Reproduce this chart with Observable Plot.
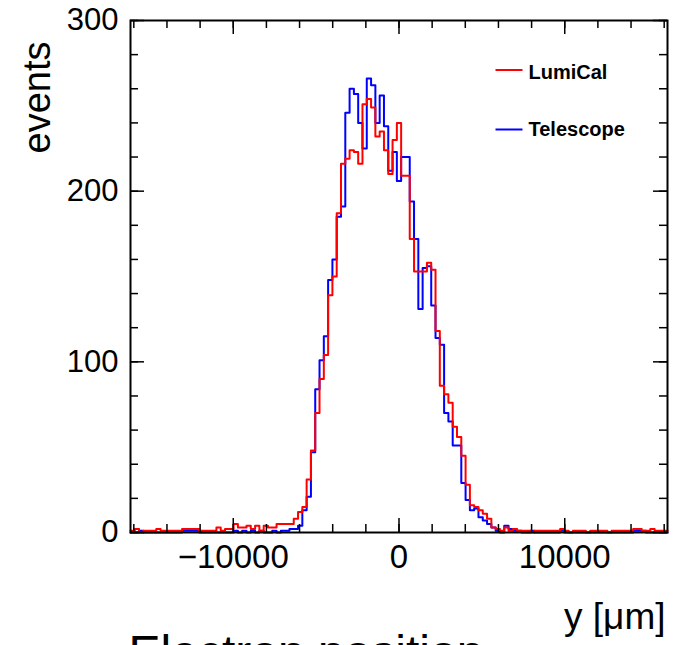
<!DOCTYPE html>
<html>
<head>
<meta charset="utf-8">
<script src="https://cdn.jsdelivr.net/npm/d3@7"></script>
<script src="https://cdn.jsdelivr.net/npm/@observablehq/plot@0.6"></script>
<style>
  html, body { margin: 0; padding: 0; background: white; overflow: hidden; }
  svg { overflow: hidden; }
</style>
</head>
<body>
<div id="chart"></div>
<script>
// Histogram range and binning (x in µm)
const histRange = [-16200, 16200];
const nBins = 125;

// Counts per bin, LumiCal (red)
const lumical = [
  1,2,0,1,1,1,2,1,1,1,
  1,1,2,2,2,2,1,1,1,1,
  3,1,2,2,5,3,3,4,2,4,
  1,4,3,3,5,5,5,5,8,12,
  15,31,48,70,90,104,139,150,187,216,
  219,224,223,216,251,254,249,232,235,224,
  210,230,240,209,209,172,153,153,153,158,
  154,118,86,81,76,62,56,45,28,16,
  15,13,11,8,3,2,1,3,1,2,
  1,1,1,0,1,1,1,1,1,1,
  2,1,0,1,1,1,0,1,1,1,
  1,0,1,1,1,1,1,2,2,1,
  1,2,1,1,1
];

// Counts per bin, Telescope (blue)
const telescope = [
  0,0,1,0,0,0,0,0,0,0,
  0,0,1,1,1,1,0,0,0,0,
  0,0,0,0,1,0,1,0,1,0,
  1,0,0,1,0,1,1,2,2,4,
  13,21,47,84,101,115,148,160,185,191,
  246,260,257,240,225,266,262,240,256,238,
  212,223,206,220,220,194,172,131,155,156,
  133,114,110,70,65,51,51,29,19,13,
  14,9,7,5,3,1,0,4,2,1,
  1,0,0,1,0,0,0,0,0,0,
  1,0,0,0,0,0,0,0,0,0,
  0,0,0,0,0,0,0,1,1,1,
  0,0,0,0,0
];

// Axis ticks
const xMajor = [-10000, 0, 10000];
const xMinor = d3.range(-16000, 16001, 2000);
const yMajor = [0, 100, 200, 300];
const yMinor = d3.range(0, 301, 20);

const series = [
  {name: "Telescope", counts: telescope, color: "#0000ff"},
  {name: "LumiCal", counts: lumical, color: "#ff0000"}
];

const binW = (histRange[1] - histRange[0]) / nBins;
function steps(counts) {
  const pts = counts.map((c, i) => ({x: histRange[0] + i * binW, y: c}));
  pts.push({x: histRange[1], y: counts[counts.length - 1]});
  return pts;
}

const W = 673, H = 645;
const mL = 130, mR = 6, mT = 20, mB = 113;
const plotW = W - mL - mR, plotH = H - mT - mB;
const majLen = 14, minLen = 8;

const lineSym = {draw(ctx) { ctx.moveTo(-13.5, 0); ctx.lineTo(13.5, 0); }};

const fontFam = "'Liberation Sans', Arial, Helvetica, sans-serif";

const chart = Plot.plot({
  width: W, height: H,
  marginLeft: mL, marginRight: mR, marginTop: mT, marginBottom: mB,
  style: {fontFamily: fontFam, fontSize: "30px", background: "white", color: "black"},
  x: {domain: histRange},
  y: {domain: [0, 300]},
  marks: [
    // histograms
    ...series.map(s => Plot.line(steps(s.counts), {x: "x", y: "y", curve: "step-after", stroke: s.color, strokeWidth: 2})),
    // frame
    Plot.frame({stroke: "black", strokeWidth: 2}),
    // inward ticks, bottom and top
    Plot.ruleX(xMinor, {insetTop: plotH - minLen, stroke: "black", strokeWidth: 1.5}),
    Plot.ruleX(xMajor, {insetTop: plotH - majLen, stroke: "black", strokeWidth: 1.5}),
    Plot.ruleX(xMinor, {insetBottom: plotH - minLen, stroke: "black", strokeWidth: 1.5}),
    Plot.ruleX(xMajor, {insetBottom: plotH - majLen, stroke: "black", strokeWidth: 1.5}),
    // inward ticks, left and right
    Plot.ruleY(yMinor, {insetRight: plotW - minLen, stroke: "black", strokeWidth: 1.5}),
    Plot.ruleY(yMajor, {insetRight: plotW - majLen, stroke: "black", strokeWidth: 1.5}),
    Plot.ruleY(yMinor, {insetLeft: plotW - minLen, stroke: "black", strokeWidth: 1.5}),
    Plot.ruleY(yMajor, {insetLeft: plotW - majLen, stroke: "black", strokeWidth: 1.5}),
    // tick labels
    Plot.axisX({ticks: xMajor, tickSize: 0, tickPadding: 12, fontSize: 33, label: null,
      tickFormat: d => d < 0 ? "\u2212" + Math.abs(d) : String(d)}),
    Plot.axisY({ticks: yMajor, tickSize: 0, tickPadding: 12, fontSize: 31, label: null}),
    // axis titles
    Plot.text(["events"], {frameAnchor: "top-left", rotate: -90, textAnchor: "end", dx: -107, dy: 21, fontSize: 38}),
    Plot.text(["y [\u03bcm]"], {frameAnchor: "bottom-right", textAnchor: "end", dx: -2, dy: 96, fontSize: 37}),
    Plot.text(["Electron position"], {frameAnchor: "bottom-left", textAnchor: "start", lineAnchor: "top", dx: -2, dy: 102, fontSize: 48}),
    // legend
    Plot.dot([series[1]], {frameAnchor: "top-right", dx: -158.5, dy: 49.5, symbol: lineSym, stroke: d => d.color, strokeWidth: 2, r: 5}),
    Plot.dot([series[0]], {frameAnchor: "top-right", dx: -158.5, dy: 109, symbol: lineSym, stroke: d => d.color, strokeWidth: 2, r: 5}),
    Plot.text([series[1]], {frameAnchor: "top-right", dx: -139, dy: 44, text: "name", textAnchor: "start", fontSize: 20, fontWeight: "bold"}),
    Plot.text([series[0]], {frameAnchor: "top-right", dx: -139, dy: 101, text: "name", textAnchor: "start", fontSize: 20, fontWeight: "bold"})
  ]
});
document.getElementById("chart").appendChild(chart);
</script>
</body>
</html>
